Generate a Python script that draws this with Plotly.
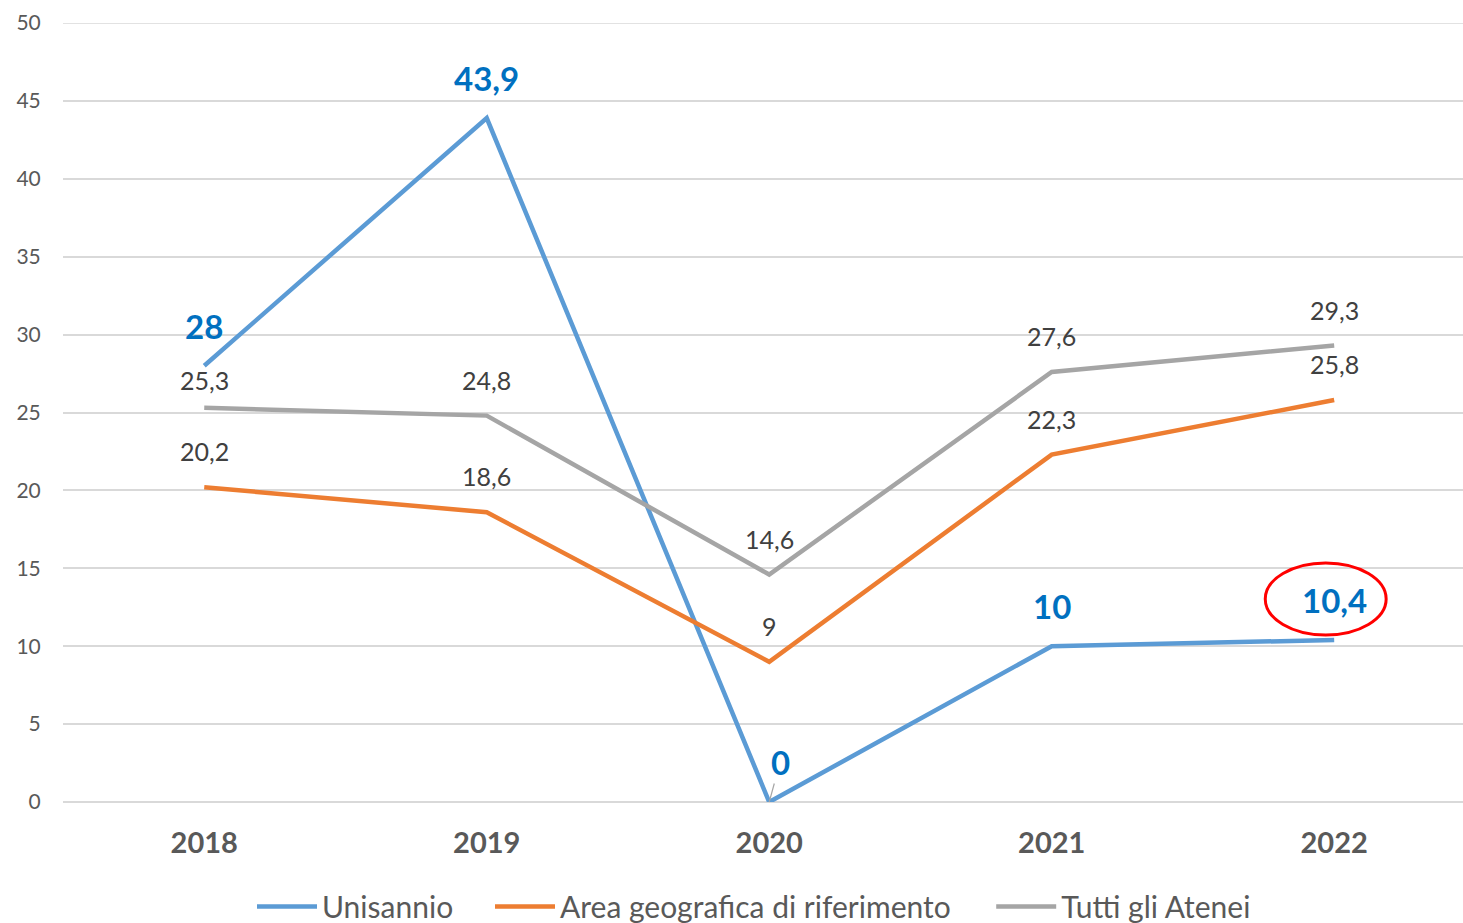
import plotly.graph_objects as go

years = ["2018", "2019", "2020", "2021", "2022"]
unisannio = [28, 43.9, 0, 10, 10.4]
area = [20.2, 18.6, 9, 22.3, 25.8]
tutti = [25.3, 24.8, 14.6, 27.6, 29.3]
y_ticks = [0, 5, 10, 15, 20, 25, 30, 35, 40, 45, 50]

FONT = "Lato"

def lab(v):
    return ("%g" % v).replace(".", ",")

fig = go.Figure()
series = [
    ("Unisannio", unisannio, "#5B9BD5", "legend", 0.135),
    ("Area geografica di riferimento", area, "#ED7D31", "legend2", 0.305),
    ("Tutti gli Atenei", tutti, "#A5A5A5", "legend3", 0.663),
]
legends = {}
for name, vals, col, lg, lx in series:
    fig.add_trace(go.Scatter(x=years, y=vals, mode="lines", name=name, legend=lg,
                             line=dict(color=col, width=4.5)))
    legends[lg] = dict(orientation="h", x=lx, xanchor="left", y=-0.134, yanchor="middle",
                       font=dict(size=30, color="#595959", family=FONT),
                       itemwidth=60, bgcolor="rgba(0,0,0,0)")

annotations = []
for i, v in enumerate(tutti):
    annotations.append(dict(x=i, y=v, xref="x", yref="y", text=lab(v), showarrow=False,
                            yshift=28 if i == 0 else 36,
                            font=dict(size=25, color="#404040", family=FONT)))
for i, v in enumerate(area):
    annotations.append(dict(x=i, y=v, xref="x", yref="y", text=lab(v), showarrow=False, yshift=36,
                            font=dict(size=25, color="#404040", family=FONT)))
for i, v in enumerate(unisannio):
    if v == 0:
        annotations.append(dict(x=i, y=v, xref="x", yref="y", text="<b>" + lab(v) + "</b>",
                                showarrow=True, ax=11, ay=-40, arrowhead=0, arrowwidth=1.2,
                                arrowcolor="#A5A5A5", standoff=0,
                                font=dict(size=33, color="#0070C0", family=FONT)))
    else:
        annotations.append(dict(x=i, y=v, xref="x", yref="y", text="<b>" + lab(v) + "</b>",
                                showarrow=False, yshift=40,
                                font=dict(size=33, color="#0070C0", family=FONT)))

fig.update_layout(
    width=1463, height=923,
    margin=dict(l=63, r=0, t=23, b=121, autoexpand=False),
    plot_bgcolor="white", paper_bgcolor="white",
    font=dict(family=FONT, color="#595959"),
    showlegend=True,
    annotations=annotations,
    shapes=[
        dict(type="circle", xref="x", yref="y", x0=3.756, x1=4.184, y0=10.72, y1=15.34,
             line=dict(color="#FF0000", width=3)),
        dict(type="line", xref="paper", yref="y", x0=0, x1=1, y0=y_ticks[-1], y1=y_ticks[-1],
             line=dict(color="#D9D9D9", width=1.5), layer="below"),
    ],
    **legends,
)
fig.update_xaxes(type="category", range=[-0.5, 4.456], showgrid=False, showline=False,
                 zeroline=False, ticks="outside", ticklen=15, tickcolor="rgba(0,0,0,0)",
                 automargin=False,
                 tickfont=dict(size=29, color="#595959", family=FONT),
                 tickprefix="<b>", ticksuffix="</b>")
fig.update_yaxes(range=[0, 50], tickvals=y_ticks, showgrid=True, gridcolor="#D9D9D9",
                 gridwidth=1.5, zeroline=True, zerolinecolor="#D9D9D9", zerolinewidth=1.5,
                 showline=False, ticks="outside", ticklen=17, tickcolor="rgba(0,0,0,0)",
                 automargin=False,
                 tickfont=dict(size=21, color="#595959", family=FONT))

fig.write_html("out.html", config={"displayModeBar": False},
               post_script="document.body.style.margin='0px';document.body.style.overflow='hidden';")
